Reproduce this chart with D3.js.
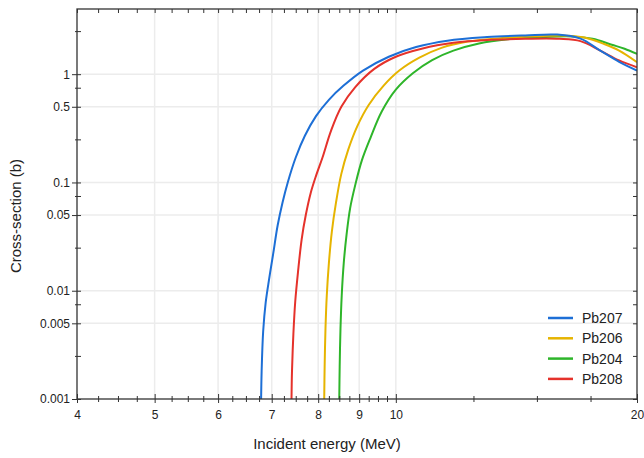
<!DOCTYPE html>
<html><head><meta charset="utf-8">
<script src="https://cdn.jsdelivr.net/npm/d3@7"></script>
<style>body{margin:0;background:#fff}svg{display:block;font-family:"Liberation Sans",Arial,sans-serif}</style>
</head><body><svg id="c" width="644" height="458"></svg>
<script>
const seriesNames = ["Pb207","Pb206","Pb204","Pb208"];
const seriesColors = ["#1d6fd6","#e6b400","#2eb52a","#e5322b"];
const pb207E = [6.79,6.80,6.83,6.88,6.95,7.03,7.12,7.22,7.33,7.5,7.7,7.95,8.25,8.6,9.1,9.8,10.6,11.6,13.0,14.5,15.9,17.0,18.0,19.0,20];
const pb207S = [0.001,0.0018,0.0042,0.0078,0.013,0.022,0.04,0.065,0.1,0.17,0.27,0.41,0.58,0.78,1.08,1.45,1.78,2.04,2.2,2.28,2.32,2.13,1.65,1.3,1.08];
const pb206E = [8.14,8.15,8.17,8.2,8.25,8.32,8.42,8.55,8.72,8.95,9.25,9.65,10.1,10.7,11.4,12.3,13.5,15.0,16.3,17.2,18.2,19.0,20];
const pb206S = [0.001,0.002,0.0045,0.009,0.018,0.035,0.065,0.12,0.2,0.33,0.52,0.78,1.08,1.42,1.75,2.0,2.15,2.24,2.27,2.18,1.9,1.65,1.29];
const pb204E = [8.50,8.51,8.53,8.56,8.61,8.68,8.77,8.9,9.07,9.3,9.6,10.0,10.5,11.1,11.8,12.7,13.8,15.2,16.6,17.6,18.6,19.3,20];
const pb204S = [0.001,0.002,0.0045,0.009,0.018,0.033,0.058,0.095,0.16,0.26,0.45,0.72,1.02,1.35,1.65,1.92,2.1,2.2,2.23,2.12,1.87,1.72,1.54];
const pb208E = [7.41,7.42,7.45,7.49,7.55,7.63,7.72,7.83,7.95,8.1,8.3,8.55,8.9,9.4,10.0,10.8,11.8,13.0,14.5,16.0,17.0,18.0,19.0,20];
const pb208S = [0.001,0.0018,0.004,0.008,0.015,0.03,0.05,0.08,0.115,0.17,0.3,0.5,0.76,1.12,1.45,1.73,1.95,2.07,2.12,2.12,2.02,1.65,1.34,1.16];
const xTickVals = [4,5,6,7,8,9,10,20];
const xMinorVals = [4.25,4.5,4.75,5.25,5.5,5.75,6.25,6.5,6.75,7.25,7.5,7.75,8.25,8.5,8.75,9.25,9.5,9.75,12.5,15,17.5];
const yTickVals = [0.001,0.005,0.01,0.05,0.1,0.5,1];
const yTickLabels = ["0.001","0.005","0.01","0.05","0.1","0.5","1"];
const yMinorVals = [0.0025,0.0075,0.025,0.075,0.25,0.75,2.5];
const xTitle = "Incident energy (MeV)";
const yTitle = "Cross-section (b)";

const seriesE = [pb207E,pb206E,pb204E,pb208E];
const seriesS = [pb207S,pb206S,pb204S,pb208S];

const L=77,R=637,T=9,B=399;
const svg=d3.select("#c");
const x=d3.scaleLog().domain([4,20]).range([L,R]);
const y=d3.scaleLog().domain([0.001,4]).range([B,T]);

// grid
const g=svg.append("g");
g.selectAll("line.gx").data(xTickVals.filter(v=>v>4&&v<20)).enter().append("line")
 .attr("x1",d=>x(d)).attr("x2",d=>x(d)).attr("y1",T).attr("y2",B)
 .attr("stroke","#ececec").attr("stroke-width",1.5);
g.selectAll("line.gy").data(yTickVals.filter(v=>v>0.001)).enter().append("line")
 .attr("y1",d=>y(d)).attr("y2",d=>y(d)).attr("x1",L).attr("x2",R)
 .attr("stroke","#ececec").attr("stroke-width",1.5);

svg.append("clipPath").attr("id","cp").append("rect").attr("x",L).attr("y",T).attr("width",R-L).attr("height",B-T);

const line=d3.line().x(d=>x(d[0])).y(d=>y(d[1])).curve(d3.curveCatmullRom.alpha(0.5));
const order=[2,1,3,0];
const cg=svg.append("g").attr("clip-path","url(#cp)");
order.forEach(i=>{
  const pts=seriesE[i].map((e,k)=>[e,seriesS[i][k]]);
  cg.append("path").attr("d",line(pts)).attr("fill","none")
   .attr("stroke",seriesColors[i]).attr("stroke-width",2);
});

const axc="#333";
// frame
svg.append("rect").attr("x",L).attr("y",T).attr("width",R-L).attr("height",B-T)
 .attr("fill","none").attr("stroke",axc).attr("stroke-width",1.3);

// bottom axis
const xb=svg.append("g").attr("transform",`translate(0,${B})`).call(
  d3.axisBottom(x).tickValues(xTickVals).tickFormat(d3.format("d")).tickSize(4).tickPadding(7));
xb.select(".domain").remove();
xb.selectAll(".tick line").attr("y1",-5).attr("stroke",axc);
xb.selectAll("text").attr("font-size",12).attr("fill","#222");
const xbm=svg.append("g").attr("transform",`translate(0,${B})`).call(
  d3.axisBottom(x).tickValues(xMinorVals).tickFormat("").tickSize(3));
xbm.select(".domain").remove();
xbm.selectAll(".tick line").attr("y1",-3).attr("stroke",axc);

// top axis (inward)
const xt=svg.append("g").attr("transform",`translate(0,${T})`).call(
  d3.axisBottom(x).tickValues(xTickVals.concat(xMinorVals)).tickFormat("").tickSize(4));
xt.select(".domain").remove(); xt.selectAll(".tick line").attr("stroke",axc);

// left axis
const yl=svg.append("g").attr("transform",`translate(${L},0)`).call(
  d3.axisLeft(y).tickValues(yTickVals).tickFormat((d,i)=>yTickLabels[i]).tickSize(5).tickPadding(2));
yl.select(".domain").remove();
yl.selectAll(".tick line").attr("x1",4).attr("stroke",axc);
yl.selectAll("text").attr("font-size",12).attr("fill","#222");
const ylm=svg.append("g").attr("transform",`translate(${L},0)`).call(
  d3.axisLeft(y).tickValues(yMinorVals).tickFormat("").tickSize(2));
ylm.select(".domain").remove(); ylm.selectAll(".tick line").attr("x1",4).attr("stroke",axc);

// right axis (inward)
const yr=svg.append("g").attr("transform",`translate(${R},0)`).call(
  d3.axisRight(y).tickValues(yTickVals.concat(yMinorVals)).tickFormat("").tickSize(-4));
yr.select(".domain").remove(); yr.selectAll(".tick line").attr("stroke",axc);

// titles
svg.append("text").attr("x",327).attr("y",449).attr("text-anchor","middle")
 .attr("font-size",15).attr("fill","#222").text(xTitle);
svg.append("text").attr("transform","translate(21,216) rotate(-90)").attr("text-anchor","middle")
 .attr("font-size",15).attr("fill","#222").text(yTitle);

// legend
const lg=svg.append("g");
seriesNames.forEach((n,i)=>{
  const yy=318+i*20.3;
  lg.append("line").attr("x1",548).attr("x2",573).attr("y1",yy).attr("y2",yy)
   .attr("stroke",seriesColors[i]).attr("stroke-width",2.5);
  lg.append("text").attr("x",582).attr("y",yy).attr("dy","0.36em")
   .attr("font-size",14).attr("fill","#222").text(n);
});
</script></body></html>
